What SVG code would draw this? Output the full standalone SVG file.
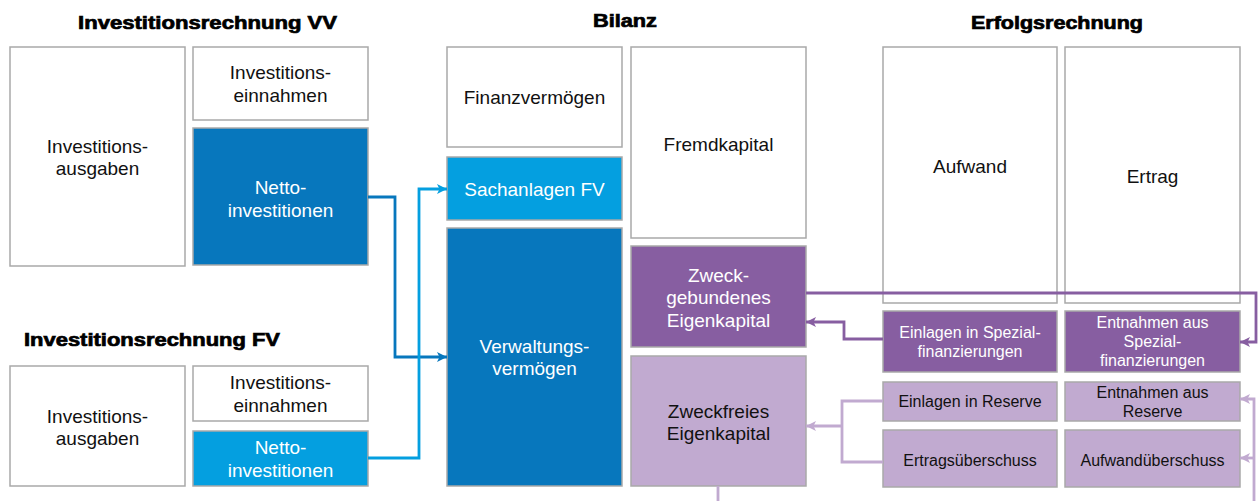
<svg xmlns="http://www.w3.org/2000/svg" width="1259" height="501" viewBox="0 0 1259 501">
<defs>
<style>
.box{stroke:#a9a9a9;stroke-width:1.5}
.w{fill:#ffffff}
.db{fill:#0777bd}
.lb{fill:#049fe0}
.pu{fill:#875ea1}
.lp{fill:#c1aad0}
text{font-family:"Liberation Sans",Arial,sans-serif;text-anchor:middle}
.t{font-size:19px;fill:#111}
.tw{font-size:19px;fill:#fff}
.s{font-size:16px;fill:#111}
.sw{font-size:16px;fill:#fff}
.h{font-size:18px;font-weight:bold;fill:#000;stroke:#000;stroke-width:0.7;text-anchor:start}
.c{fill:none;stroke-width:2.8}
</style>
<marker id="adb" viewBox="0 0 10 10" refX="10" refY="5" markerWidth="10" markerHeight="10" markerUnits="userSpaceOnUse" orient="auto"><path d="M0,0 L10,5 L0,10 L2.5,5 z" fill="#0777bd"/></marker>
<marker id="alb" viewBox="0 0 10 10" refX="10" refY="5" markerWidth="10" markerHeight="10" markerUnits="userSpaceOnUse" orient="auto"><path d="M0,0 L10,5 L0,10 L2.5,5 z" fill="#049fe0"/></marker>
<marker id="apu" viewBox="0 0 10 10" refX="10" refY="5" markerWidth="10" markerHeight="10" markerUnits="userSpaceOnUse" orient="auto"><path d="M0,0 L10,5 L0,10 L2.5,5 z" fill="#875ea1"/></marker>
<marker id="alp" viewBox="0 0 10 10" refX="10" refY="5" markerWidth="10" markerHeight="10" markerUnits="userSpaceOnUse" orient="auto"><path d="M0,0 L10,5 L0,10 L2.5,5 z" fill="#c1aad0"/></marker>
</defs>
<rect width="1259" height="501" fill="#fff"/>

<g id="titles">
<text class="h" x="78" y="29" textLength="259" lengthAdjust="spacingAndGlyphs">Investitionsrechnung VV</text>
<text class="h" x="24" y="346" textLength="256" lengthAdjust="spacingAndGlyphs">Investitionsrechnung FV</text>
<text class="h" x="593" y="27" textLength="64" lengthAdjust="spacingAndGlyphs">Bilanz</text>
<text class="h" x="971" y="29" textLength="172" lengthAdjust="spacingAndGlyphs">Erfolgsrechnung</text>
</g>

<g id="vv-ausgaben"><rect class="box w" x="10" y="47" width="175" height="219"/><text class="t" x="97.5" y="153">Investitions-</text><text class="t" x="97.5" y="175">ausgaben</text></g>
<g id="vv-einnahmen"><rect class="box w" x="193" y="47" width="175" height="73"/><text class="t" x="280.5" y="79">Investitions-</text><text class="t" x="280.5" y="102">einnahmen</text></g>
<g id="vv-netto"><rect class="box db" x="193" y="128" width="175" height="137"/><text class="tw" x="280.5" y="194">Netto-</text><text class="tw" x="280.5" y="217">investitionen</text></g>

<g id="fv-ausgaben"><rect class="box w" x="10" y="366" width="175" height="120"/><text class="t" x="97.5" y="423">Investitions-</text><text class="t" x="97.5" y="445">ausgaben</text></g>
<g id="fv-einnahmen"><rect class="box w" x="193" y="366" width="175" height="55"/><text class="t" x="280.5" y="389">Investitions-</text><text class="t" x="280.5" y="412">einnahmen</text></g>
<g id="fv-netto"><rect class="box lb" x="193" y="431" width="175" height="55"/><text class="tw" x="280.5" y="454">Netto-</text><text class="tw" x="280.5" y="477">investitionen</text></g>

<g id="finanzvermoegen"><rect class="box w" x="447" y="47" width="175" height="100"/><text class="t" x="534.5" y="104">Finanzvermögen</text></g>
<g id="sachanlagen"><rect class="box lb" x="447" y="157" width="175" height="63"/><text class="tw" x="534.5" y="196">Sachanlagen FV</text></g>
<g id="verwaltungsvermoegen"><rect class="box db" x="447" y="228" width="175" height="258"/><text class="tw" x="534.5" y="353">Verwaltungs-</text><text class="tw" x="534.5" y="375">vermögen</text></g>

<g id="fremdkapital"><rect class="box w" x="631" y="47" width="175" height="191"/><text class="t" x="718.5" y="151">Fremdkapital</text></g>
<g id="zweckgebunden"><rect class="box pu" x="631" y="246" width="175" height="101"/><text class="tw" x="718.5" y="282">Zweck-</text><text class="tw" x="718.5" y="304">gebundenes</text><text class="tw" x="718.5" y="327">Eigenkapital</text></g>
<g id="zweckfrei"><rect class="box lp" x="631" y="356" width="175" height="130"/><text class="t" x="718.5" y="418">Zweckfreies</text><text class="t" x="718.5" y="440">Eigenkapital</text></g>

<g id="aufwand"><rect class="box w" x="883" y="47" width="174" height="256"/><text class="t" x="970" y="173">Aufwand</text></g>
<g id="ertrag"><rect class="box w" x="1065" y="47" width="175" height="256"/><text class="t" x="1152.5" y="183">Ertrag</text></g>

<g id="einlagen-sf"><rect class="box pu" x="883" y="311" width="174" height="61"/><text class="sw" x="970" y="338">Einlagen in Spezial-</text><text class="sw" x="970" y="357">finanzierungen</text></g>
<g id="entnahmen-sf"><rect class="box pu" x="1065" y="311" width="175" height="61"/><text class="sw" x="1152.5" y="328">Entnahmen aus</text><text class="sw" x="1152.5" y="347">Spezial-</text><text class="sw" x="1152.5" y="366">finanzierungen</text></g>
<g id="einlagen-res"><rect class="box lp" x="883" y="382" width="174" height="39"/><text class="s" x="970" y="407">Einlagen in Reserve</text></g>
<g id="entnahmen-res"><rect class="box lp" x="1065" y="382" width="175" height="39"/><text class="s" x="1152.5" y="398">Entnahmen aus</text><text class="s" x="1152.5" y="417">Reserve</text></g>
<g id="ertragsueberschuss"><rect class="box lp" x="883" y="430" width="174" height="57"/><text class="s" x="970" y="466">Ertragsüberschuss</text></g>
<g id="aufwandueberschuss"><rect class="box lp" x="1065" y="430" width="175" height="57"/><text class="s" x="1152.5" y="466">Aufwandüberschuss</text></g>

<g id="connectors">
<path class="c" stroke="#0777bd" d="M368,197 H395 V357 H447" marker-end="url(#adb)"/>
<path class="c" stroke="#049fe0" d="M368,458 H419 V189 H447" marker-end="url(#alb)"/>
<path class="c" stroke="#875ea1" d="M806,293 H1256 V342 H1240" marker-end="url(#apu)"/>
<path class="c" stroke="#875ea1" d="M883,339 H844 V322 H806" marker-end="url(#apu)"/>
<path class="c" stroke="#c1aad0" d="M883,401 H842 V462 H883"/>
<path class="c" stroke="#c1aad0" d="M842,426 H806" marker-end="url(#alp)"/>
<path class="c" stroke="#c1aad0" d="M1254,501 V399 H1240" marker-end="url(#alp)"/>
<path class="c" stroke="#c1aad0" d="M1254,458 H1240" marker-end="url(#alp)"/>
<path class="c" stroke="#c1aad0" d="M718,486 V501"/>
</g>
</svg>
